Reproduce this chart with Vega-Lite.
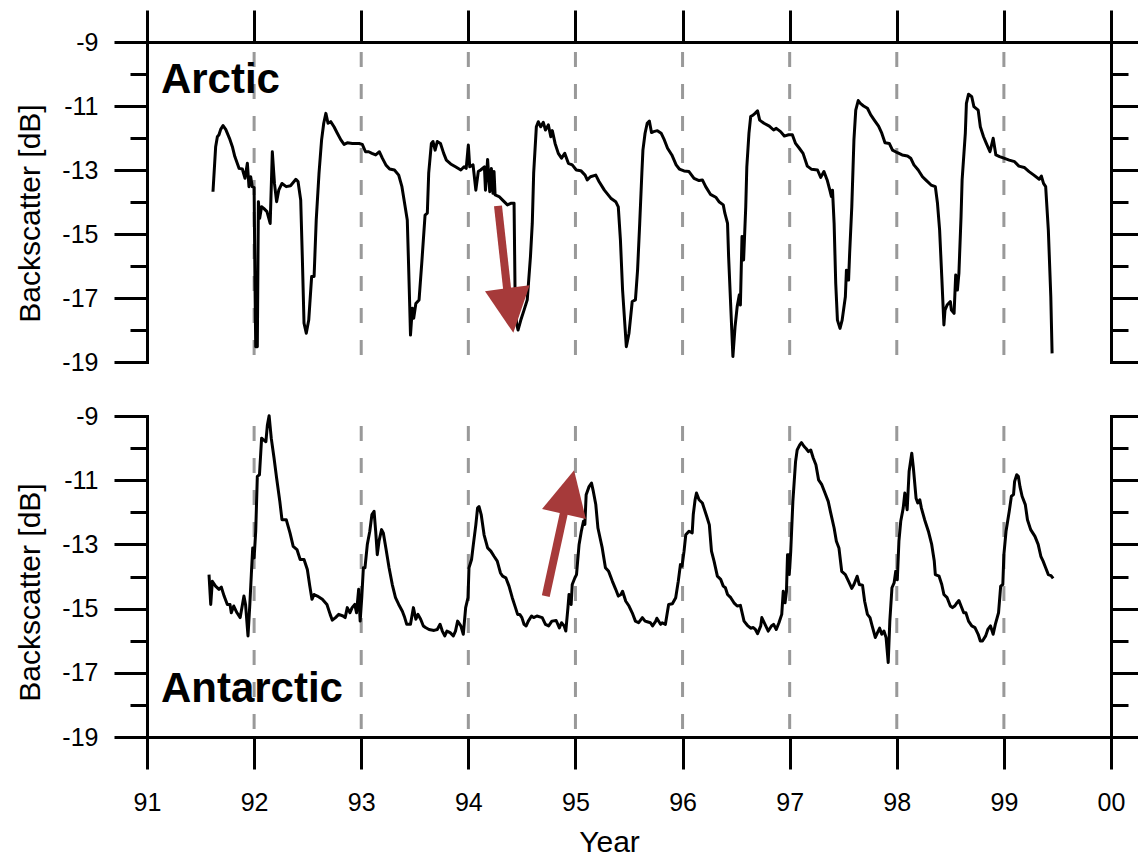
{
  "$schema": "https://vega.github.io/schema/vega-lite/v6.json",
  "background": "white",
  "padding": {"left": 15, "top": 8, "right": 0, "bottom": 0},
  "spacing": 54,
  "bounds": "flush",
  "config": {
    "font": "Liberation Sans",
    "view": {"stroke": null},
    "axis": {
      "domainColor": "black", "tickColor": "black", "domainWidth": 3, "tickWidth": 3,
      "labelFont": "Liberation Sans", "labelFontSize": 25, "labelColor": "black",
      "titleFont": "Liberation Sans", "titleFontSize": 30, "titleFontWeight": "normal", "titleColor": "black",
      "grid": false, "domainCap": "square", "labelFlush": false, "labelOverlap": false
    }
  },
  "datasets": {
    "years": [{"year": 92}, {"year": 93}, {"year": 94}, {"year": 95}, {"year": 96}, {"year": 97}, {"year": 98}, {"year": 99}],
    "downShaft": [{"year": 94.277, "dB": -14.12}, {"year": 94.368, "dB": -16.9}],
    "downHead": [{"year": 94.392, "dB": -17.39}],
    "upShaft": [{"year": 94.723, "dB": -14.61}, {"year": 94.9, "dB": -11.9}],
    "upHead": [{"year": 94.94, "dB": -11.37}],
    "arctic": [
{"year":91.616,"dB":-13.68},{"year":91.641,"dB":-12.27},{"year":91.657,"dB":-11.96},{"year":91.672,"dB":-11.9},{"year":91.688,"dB":-11.73},{"year":91.71,"dB":-11.61},{"year":91.735,"dB":-11.73},{"year":91.77,"dB":-12.01},{"year":91.797,"dB":-12.27},{"year":91.82,"dB":-12.58},{"year":91.86,"dB":-12.95},{"year":91.89,"dB":-12.97},{"year":91.915,"dB":-13.26},{"year":91.937,"dB":-12.79},{"year":91.952,"dB":-13.52},{"year":91.968,"dB":-13.21},{"year":91.983,"dB":-13.52},{"year":92.0,"dB":-13.55},{"year":92.008,"dB":-16.5},{"year":92.015,"dB":-18.52},{"year":92.03,"dB":-18.52},{"year":92.04,"dB":-13.99},{"year":92.052,"dB":-14.51},{"year":92.07,"dB":-14.15},{"year":92.09,"dB":-14.2},{"year":92.12,"dB":-14.3},{"year":92.15,"dB":-14.67},{"year":92.17,"dB":-12.43},{"year":92.19,"dB":-13.42},{"year":92.21,"dB":-13.99},{"year":92.23,"dB":-13.63},{"year":92.26,"dB":-13.42},{"year":92.3,"dB":-13.52},{"year":92.34,"dB":-13.49},{"year":92.39,"dB":-13.29},{"year":92.41,"dB":-13.36},{"year":92.435,"dB":-13.94},{"year":92.45,"dB":-15.71},{"year":92.466,"dB":-17.79},{"year":92.487,"dB":-18.1},{"year":92.51,"dB":-17.69},{"year":92.537,"dB":-16.33},{"year":92.56,"dB":-16.33},{"year":92.58,"dB":-14.56},{"year":92.606,"dB":-13.1},{"year":92.63,"dB":-12.06},{"year":92.65,"dB":-11.54},{"year":92.67,"dB":-11.23},{"year":92.69,"dB":-11.54},{"year":92.715,"dB":-11.49},{"year":92.746,"dB":-11.65},{"year":92.777,"dB":-11.85},{"year":92.81,"dB":-12.06},{"year":92.84,"dB":-12.2},{"year":92.87,"dB":-12.15},{"year":92.917,"dB":-12.17},{"year":92.98,"dB":-12.17},{"year":93.01,"dB":-12.2},{"year":93.04,"dB":-12.43},{"year":93.07,"dB":-12.43},{"year":93.1,"dB":-12.48},{"year":93.135,"dB":-12.53},{"year":93.17,"dB":-12.43},{"year":93.197,"dB":-12.63},{"year":93.23,"dB":-12.84},{"year":93.265,"dB":-12.97},{"year":93.31,"dB":-13.0},{"year":93.35,"dB":-13.16},{"year":93.38,"dB":-13.52},{"year":93.4,"dB":-13.94},{"year":93.43,"dB":-14.56},{"year":93.44,"dB":-15.71},{"year":93.453,"dB":-17.27},{"year":93.46,"dB":-18.16},{"year":93.477,"dB":-17.32},{"year":93.49,"dB":-17.63},{"year":93.51,"dB":-17.17},{"year":93.54,"dB":-17.06},{"year":93.565,"dB":-15.92},{"year":93.596,"dB":-14.41},{"year":93.617,"dB":-14.35},{"year":93.63,"dB":-13.1},{"year":93.655,"dB":-12.17},{"year":93.67,"dB":-12.11},{"year":93.69,"dB":-12.38},{"year":93.71,"dB":-12.11},{"year":93.74,"dB":-12.17},{"year":93.77,"dB":-12.48},{"year":93.795,"dB":-12.69},{"year":93.835,"dB":-12.81},{"year":93.88,"dB":-12.9},{"year":93.93,"dB":-13.0},{"year":93.96,"dB":-12.9},{"year":93.98,"dB":-12.95},{"year":94.0,"dB":-12.22},{"year":94.013,"dB":-12.9},{"year":94.044,"dB":-12.84},{"year":94.07,"dB":-13.63},{"year":94.093,"dB":-13.05},{"year":94.115,"dB":-13.0},{"year":94.15,"dB":-12.9},{"year":94.16,"dB":-13.63},{"year":94.18,"dB":-12.67},{"year":94.2,"dB":-13.68},{"year":94.215,"dB":-12.95},{"year":94.23,"dB":-13.73},{"year":94.24,"dB":-13.05},{"year":94.25,"dB":-13.78},{"year":94.287,"dB":-13.83},{"year":94.32,"dB":-13.94},{"year":94.365,"dB":-14.09},{"year":94.396,"dB":-14.04},{"year":94.427,"dB":-14.04},{"year":94.436,"dB":-16.75},{"year":94.45,"dB":-17.79},{"year":94.464,"dB":-18.0},{"year":94.49,"dB":-17.69},{"year":94.52,"dB":-17.38},{"year":94.55,"dB":-17.06},{"year":94.58,"dB":-15.71},{"year":94.597,"dB":-14.67},{"year":94.61,"dB":-13.1},{"year":94.635,"dB":-11.65},{"year":94.653,"dB":-11.49},{"year":94.676,"dB":-11.65},{"year":94.7,"dB":-11.51},{"year":94.72,"dB":-11.75},{"year":94.747,"dB":-11.59},{"year":94.77,"dB":-11.96},{"year":94.784,"dB":-11.77},{"year":94.81,"dB":-12.17},{"year":94.84,"dB":-12.48},{"year":94.87,"dB":-12.63},{"year":94.9,"dB":-12.48},{"year":94.934,"dB":-12.79},{"year":94.97,"dB":-12.84},{"year":95.008,"dB":-13.0},{"year":95.05,"dB":-13.02},{"year":95.09,"dB":-13.16},{"year":95.11,"dB":-13.31},{"year":95.14,"dB":-13.21},{"year":95.19,"dB":-13.16},{"year":95.22,"dB":-13.36},{"year":95.27,"dB":-13.63},{"year":95.33,"dB":-13.88},{"year":95.376,"dB":-13.99},{"year":95.4,"dB":-14.15},{"year":95.42,"dB":-15.19},{"year":95.44,"dB":-16.75},{"year":95.475,"dB":-18.52},{"year":95.5,"dB":-18.1},{"year":95.53,"dB":-17.11},{"year":95.56,"dB":-17.06},{"year":95.58,"dB":-16.13},{"year":95.6,"dB":-14.67},{"year":95.62,"dB":-13.1},{"year":95.63,"dB":-12.38},{"year":95.65,"dB":-11.85},{"year":95.67,"dB":-11.54},{"year":95.69,"dB":-11.47},{"year":95.71,"dB":-11.83},{"year":95.73,"dB":-11.8},{"year":95.765,"dB":-11.77},{"year":95.8,"dB":-11.85},{"year":95.83,"dB":-12.06},{"year":95.86,"dB":-12.32},{"year":95.9,"dB":-12.53},{"year":95.94,"dB":-12.84},{"year":95.97,"dB":-12.97},{"year":96.014,"dB":-13.03},{"year":96.06,"dB":-13.05},{"year":96.107,"dB":-13.26},{"year":96.154,"dB":-13.33},{"year":96.185,"dB":-13.31},{"year":96.216,"dB":-13.52},{"year":96.26,"dB":-13.76},{"year":96.31,"dB":-13.85},{"year":96.34,"dB":-13.99},{"year":96.38,"dB":-14.09},{"year":96.395,"dB":-14.35},{"year":96.42,"dB":-14.67},{"year":96.43,"dB":-15.71},{"year":96.45,"dB":-17.27},{"year":96.47,"dB":-18.83},{"year":96.49,"dB":-17.9},{"year":96.51,"dB":-17.27},{"year":96.53,"dB":-16.9},{"year":96.54,"dB":-17.22},{"year":96.555,"dB":-15.08},{"year":96.57,"dB":-15.81},{"year":96.59,"dB":-14.15},{"year":96.6,"dB":-12.9},{"year":96.62,"dB":-11.85},{"year":96.636,"dB":-11.33},{"year":96.66,"dB":-11.28},{"year":96.677,"dB":-11.23},{"year":96.7,"dB":-11.15},{"year":96.72,"dB":-11.44},{"year":96.76,"dB":-11.54},{"year":96.81,"dB":-11.63},{"year":96.85,"dB":-11.75},{"year":96.875,"dB":-11.7},{"year":96.915,"dB":-11.8},{"year":96.95,"dB":-11.94},{"year":96.99,"dB":-11.9},{"year":97.025,"dB":-11.9},{"year":97.055,"dB":-12.17},{"year":97.09,"dB":-12.32},{"year":97.125,"dB":-12.48},{"year":97.165,"dB":-12.88},{"year":97.205,"dB":-12.98},{"year":97.26,"dB":-13.0},{"year":97.29,"dB":-13.23},{"year":97.32,"dB":-13.05},{"year":97.35,"dB":-13.31},{"year":97.375,"dB":-13.63},{"year":97.39,"dB":-13.83},{"year":97.4,"dB":-13.63},{"year":97.415,"dB":-14.67},{"year":97.43,"dB":-16.54},{"year":97.446,"dB":-17.69},{"year":97.47,"dB":-17.95},{"year":97.49,"dB":-17.69},{"year":97.52,"dB":-16.96},{"year":97.53,"dB":-16.13},{"year":97.55,"dB":-16.44},{"year":97.56,"dB":-15.6},{"year":97.58,"dB":-14.15},{"year":97.6,"dB":-12.06},{"year":97.617,"dB":-11.13},{"year":97.64,"dB":-10.83},{"year":97.66,"dB":-10.92},{"year":97.69,"dB":-11.0},{"year":97.726,"dB":-11.07},{"year":97.757,"dB":-11.28},{"year":97.79,"dB":-11.44},{"year":97.83,"dB":-11.63},{"year":97.86,"dB":-11.85},{"year":97.89,"dB":-12.15},{"year":97.93,"dB":-12.17},{"year":97.96,"dB":-12.38},{"year":98.006,"dB":-12.46},{"year":98.05,"dB":-12.53},{"year":98.1,"dB":-12.56},{"year":98.13,"dB":-12.63},{"year":98.16,"dB":-12.84},{"year":98.2,"dB":-13.0},{"year":98.24,"dB":-13.21},{"year":98.27,"dB":-13.31},{"year":98.32,"dB":-13.47},{"year":98.36,"dB":-13.52},{"year":98.38,"dB":-14.04},{"year":98.4,"dB":-14.88},{"year":98.42,"dB":-16.33},{"year":98.44,"dB":-17.84},{"year":98.45,"dB":-17.38},{"year":98.47,"dB":-17.22},{"year":98.5,"dB":-17.11},{"year":98.51,"dB":-17.38},{"year":98.535,"dB":-17.48},{"year":98.55,"dB":-16.28},{"year":98.566,"dB":-16.75},{"year":98.58,"dB":-16.23},{"year":98.6,"dB":-14.46},{"year":98.61,"dB":-13.31},{"year":98.64,"dB":-11.85},{"year":98.65,"dB":-10.92},{"year":98.67,"dB":-10.63},{"year":98.7,"dB":-10.71},{"year":98.72,"dB":-11.02},{"year":98.76,"dB":-11.13},{"year":98.78,"dB":-11.65},{"year":98.81,"dB":-11.96},{"year":98.836,"dB":-12.17},{"year":98.87,"dB":-12.43},{"year":98.9,"dB":-12.01},{"year":98.925,"dB":-12.53},{"year":98.96,"dB":-12.58},{"year":99.0,"dB":-12.63},{"year":99.05,"dB":-12.69},{"year":99.1,"dB":-12.74},{"year":99.14,"dB":-12.88},{"year":99.19,"dB":-12.92},{"year":99.235,"dB":-13.05},{"year":99.28,"dB":-13.16},{"year":99.33,"dB":-13.29},{"year":99.35,"dB":-13.19},{"year":99.37,"dB":-13.42},{"year":99.39,"dB":-13.52},{"year":99.415,"dB":-14.88},{"year":99.438,"dB":-16.96},{"year":99.45,"dB":-18.73}
    ],
    "antarctic": [
{"year":91.579,"dB":-13.94},{"year":91.595,"dB":-14.87},{"year":91.61,"dB":-14.15},{"year":91.64,"dB":-14.3},{"year":91.672,"dB":-14.4},{"year":91.694,"dB":-14.33},{"year":91.72,"dB":-14.61},{"year":91.75,"dB":-14.87},{"year":91.775,"dB":-14.87},{"year":91.787,"dB":-15.13},{"year":91.81,"dB":-14.92},{"year":91.84,"dB":-15.13},{"year":91.87,"dB":-15.28},{"year":91.905,"dB":-14.61},{"year":91.92,"dB":-14.87},{"year":91.943,"dB":-15.85},{"year":91.96,"dB":-14.87},{"year":91.974,"dB":-13.94},{"year":91.987,"dB":-13.11},{"year":92.0,"dB":-13.42},{"year":92.015,"dB":-12.59},{"year":92.03,"dB":-10.88},{"year":92.05,"dB":-10.83},{"year":92.07,"dB":-9.69},{"year":92.09,"dB":-9.75},{"year":92.11,"dB":-9.8},{"year":92.124,"dB":-9.28},{"year":92.14,"dB":-8.99},{"year":92.16,"dB":-9.69},{"year":92.186,"dB":-10.31},{"year":92.21,"dB":-10.93},{"year":92.24,"dB":-11.66},{"year":92.26,"dB":-12.23},{"year":92.3,"dB":-12.23},{"year":92.335,"dB":-12.64},{"year":92.365,"dB":-13.06},{"year":92.4,"dB":-13.16},{"year":92.43,"dB":-13.47},{"year":92.466,"dB":-13.47},{"year":92.497,"dB":-13.78},{"year":92.52,"dB":-14.3},{"year":92.54,"dB":-14.71},{"year":92.56,"dB":-14.56},{"year":92.59,"dB":-14.61},{"year":92.637,"dB":-14.71},{"year":92.68,"dB":-14.87},{"year":92.71,"dB":-15.18},{"year":92.73,"dB":-15.36},{"year":92.76,"dB":-15.28},{"year":92.79,"dB":-15.18},{"year":92.83,"dB":-15.23},{"year":92.85,"dB":-15.28},{"year":92.87,"dB":-14.97},{"year":92.895,"dB":-15.13},{"year":92.915,"dB":-14.97},{"year":92.94,"dB":-14.87},{"year":92.956,"dB":-15.13},{"year":92.976,"dB":-14.4},{"year":92.99,"dB":-15.39},{"year":93.005,"dB":-14.66},{"year":93.02,"dB":-13.73},{"year":93.035,"dB":-13.73},{"year":93.057,"dB":-13.0},{"year":93.08,"dB":-12.59},{"year":93.1,"dB":-12.07},{"year":93.12,"dB":-11.97},{"year":93.135,"dB":-12.59},{"year":93.15,"dB":-13.32},{"year":93.166,"dB":-12.9},{"year":93.19,"dB":-12.54},{"year":93.206,"dB":-12.64},{"year":93.23,"dB":-13.11},{"year":93.26,"dB":-13.73},{"year":93.29,"dB":-14.25},{"year":93.32,"dB":-14.66},{"year":93.35,"dB":-14.87},{"year":93.384,"dB":-15.08},{"year":93.406,"dB":-15.28},{"year":93.425,"dB":-15.49},{"year":93.46,"dB":-15.49},{"year":93.487,"dB":-14.97},{"year":93.51,"dB":-15.33},{"year":93.53,"dB":-15.18},{"year":93.555,"dB":-15.33},{"year":93.58,"dB":-15.54},{"year":93.6,"dB":-15.59},{"year":93.633,"dB":-15.65},{"year":93.68,"dB":-15.68},{"year":93.71,"dB":-15.65},{"year":93.736,"dB":-15.49},{"year":93.757,"dB":-15.7},{"year":93.78,"dB":-15.85},{"year":93.8,"dB":-15.7},{"year":93.83,"dB":-15.75},{"year":93.86,"dB":-15.85},{"year":93.88,"dB":-15.7},{"year":93.9,"dB":-15.39},{"year":93.93,"dB":-15.54},{"year":93.953,"dB":-15.8},{"year":93.975,"dB":-14.97},{"year":93.997,"dB":-14.66},{"year":94.006,"dB":-13.73},{"year":94.03,"dB":-13.47},{"year":94.047,"dB":-13.0},{"year":94.07,"dB":-12.39},{"year":94.086,"dB":-11.87},{"year":94.1,"dB":-11.82},{"year":94.12,"dB":-12.07},{"year":94.147,"dB":-12.7},{"year":94.18,"dB":-13.11},{"year":94.21,"dB":-13.21},{"year":94.24,"dB":-13.37},{"year":94.27,"dB":-13.52},{"year":94.3,"dB":-13.89},{"year":94.32,"dB":-13.99},{"year":94.35,"dB":-14.04},{"year":94.38,"dB":-14.3},{"year":94.41,"dB":-14.66},{"year":94.44,"dB":-14.97},{"year":94.46,"dB":-15.18},{"year":94.48,"dB":-15.18},{"year":94.5,"dB":-15.28},{"year":94.52,"dB":-15.49},{"year":94.54,"dB":-15.54},{"year":94.56,"dB":-15.39},{"year":94.59,"dB":-15.23},{"year":94.61,"dB":-15.28},{"year":94.64,"dB":-15.23},{"year":94.69,"dB":-15.28},{"year":94.72,"dB":-15.49},{"year":94.75,"dB":-15.54},{"year":94.78,"dB":-15.39},{"year":94.82,"dB":-15.37},{"year":94.85,"dB":-15.6},{"year":94.87,"dB":-15.44},{"year":94.895,"dB":-15.54},{"year":94.91,"dB":-15.7},{"year":94.93,"dB":-14.97},{"year":94.94,"dB":-14.56},{"year":94.96,"dB":-14.87},{"year":94.97,"dB":-14.25},{"year":94.995,"dB":-14.04},{"year":95.01,"dB":-13.94},{"year":95.034,"dB":-13.0},{"year":95.055,"dB":-12.59},{"year":95.075,"dB":-12.28},{"year":95.088,"dB":-12.38},{"year":95.1,"dB":-11.45},{"year":95.127,"dB":-11.2},{"year":95.15,"dB":-11.09},{"year":95.167,"dB":-11.35},{"year":95.19,"dB":-11.76},{"year":95.21,"dB":-12.49},{"year":95.23,"dB":-12.8},{"year":95.25,"dB":-13.11},{"year":95.28,"dB":-13.73},{"year":95.31,"dB":-13.84},{"year":95.345,"dB":-14.15},{"year":95.376,"dB":-14.4},{"year":95.4,"dB":-14.61},{"year":95.425,"dB":-14.56},{"year":95.44,"dB":-14.46},{"year":95.47,"dB":-14.77},{"year":95.5,"dB":-14.92},{"year":95.53,"dB":-15.13},{"year":95.56,"dB":-15.39},{"year":95.59,"dB":-15.44},{"year":95.625,"dB":-15.28},{"year":95.65,"dB":-15.39},{"year":95.67,"dB":-15.41},{"year":95.7,"dB":-15.44},{"year":95.72,"dB":-15.54},{"year":95.75,"dB":-15.39},{"year":95.76,"dB":-15.3},{"year":95.795,"dB":-15.49},{"year":95.81,"dB":-15.44},{"year":95.84,"dB":-15.49},{"year":95.87,"dB":-14.87},{"year":95.905,"dB":-14.85},{"year":95.936,"dB":-14.66},{"year":95.96,"dB":-14.15},{"year":95.98,"dB":-13.63},{"year":95.995,"dB":-13.68},{"year":96.014,"dB":-13.21},{"year":96.03,"dB":-12.7},{"year":96.06,"dB":-12.59},{"year":96.09,"dB":-12.64},{"year":96.1,"dB":-12.07},{"year":96.117,"dB":-11.61},{"year":96.13,"dB":-11.4},{"year":96.154,"dB":-11.61},{"year":96.185,"dB":-11.71},{"year":96.226,"dB":-12.13},{"year":96.25,"dB":-12.39},{"year":96.27,"dB":-13.21},{"year":96.294,"dB":-13.52},{"year":96.325,"dB":-13.99},{"year":96.356,"dB":-14.09},{"year":96.38,"dB":-14.3},{"year":96.4,"dB":-14.35},{"year":96.42,"dB":-14.56},{"year":96.45,"dB":-14.66},{"year":96.48,"dB":-14.82},{"year":96.51,"dB":-14.92},{"year":96.54,"dB":-14.9},{"year":96.574,"dB":-15.39},{"year":96.605,"dB":-15.52},{"year":96.636,"dB":-15.61},{"year":96.66,"dB":-15.59},{"year":96.68,"dB":-15.65},{"year":96.7,"dB":-15.78},{"year":96.73,"dB":-15.54},{"year":96.74,"dB":-15.28},{"year":96.77,"dB":-15.49},{"year":96.8,"dB":-15.7},{"year":96.83,"dB":-15.54},{"year":96.85,"dB":-15.49},{"year":96.875,"dB":-15.65},{"year":96.9,"dB":-15.44},{"year":96.926,"dB":-15.18},{"year":96.94,"dB":-14.46},{"year":96.957,"dB":-14.82},{"year":96.97,"dB":-14.46},{"year":96.98,"dB":-13.32},{"year":96.99,"dB":-13.32},{"year":96.996,"dB":-13.94},{"year":97.01,"dB":-13.22},{"year":97.03,"dB":-11.66},{"year":97.055,"dB":-10.42},{"year":97.07,"dB":-10.06},{"year":97.094,"dB":-9.9},{"year":97.11,"dB":-9.83},{"year":97.135,"dB":-9.95},{"year":97.155,"dB":-10.02},{"year":97.175,"dB":-10.11},{"year":97.197,"dB":-10.06},{"year":97.22,"dB":-10.31},{"year":97.245,"dB":-10.52},{"year":97.27,"dB":-10.99},{"year":97.3,"dB":-11.14},{"year":97.33,"dB":-11.4},{"year":97.36,"dB":-11.66},{"year":97.38,"dB":-11.97},{"year":97.415,"dB":-12.49},{"year":97.436,"dB":-12.9},{"year":97.46,"dB":-13.11},{"year":97.486,"dB":-13.84},{"year":97.52,"dB":-13.94},{"year":97.55,"dB":-14.15},{"year":97.58,"dB":-14.37},{"year":97.6,"dB":-14.25},{"year":97.63,"dB":-13.99},{"year":97.65,"dB":-14.25},{"year":97.68,"dB":-14.27},{"year":97.7,"dB":-14.77},{"year":97.726,"dB":-15.18},{"year":97.75,"dB":-15.28},{"year":97.77,"dB":-15.54},{"year":97.8,"dB":-15.9},{"year":97.82,"dB":-15.75},{"year":97.84,"dB":-15.61},{"year":97.86,"dB":-15.8},{"year":97.88,"dB":-15.7},{"year":97.9,"dB":-15.9},{"year":97.92,"dB":-16.68},{"year":97.935,"dB":-15.39},{"year":97.955,"dB":-14.35},{"year":97.975,"dB":-14.2},{"year":97.99,"dB":-13.84},{"year":98.005,"dB":-14.1},{"year":98.02,"dB":-12.9},{"year":98.037,"dB":-12.28},{"year":98.06,"dB":-11.87},{"year":98.075,"dB":-11.4},{"year":98.097,"dB":-11.92},{"year":98.115,"dB":-10.73},{"year":98.14,"dB":-10.16},{"year":98.155,"dB":-10.62},{"year":98.18,"dB":-11.56},{"year":98.196,"dB":-11.71},{"year":98.215,"dB":-11.61},{"year":98.23,"dB":-11.87},{"year":98.26,"dB":-12.23},{"year":98.295,"dB":-12.59},{"year":98.326,"dB":-13.0},{"year":98.35,"dB":-13.52},{"year":98.36,"dB":-13.94},{"year":98.395,"dB":-13.99},{"year":98.42,"dB":-14.25},{"year":98.44,"dB":-14.56},{"year":98.47,"dB":-14.66},{"year":98.5,"dB":-14.92},{"year":98.52,"dB":-14.97},{"year":98.54,"dB":-14.92},{"year":98.555,"dB":-14.85},{"year":98.58,"dB":-14.75},{"year":98.6,"dB":-14.92},{"year":98.625,"dB":-15.13},{"year":98.645,"dB":-15.13},{"year":98.67,"dB":-15.39},{"year":98.7,"dB":-15.54},{"year":98.73,"dB":-15.59},{"year":98.76,"dB":-15.8},{"year":98.78,"dB":-16.01},{"year":98.8,"dB":-16.01},{"year":98.83,"dB":-15.85},{"year":98.85,"dB":-15.65},{"year":98.875,"dB":-15.54},{"year":98.9,"dB":-15.8},{"year":98.92,"dB":-15.49},{"year":98.95,"dB":-15.13},{"year":98.97,"dB":-14.3},{"year":98.99,"dB":-14.25},{"year":99.0,"dB":-13.32},{"year":99.02,"dB":-12.59},{"year":99.05,"dB":-11.97},{"year":99.07,"dB":-11.5},{"year":99.09,"dB":-11.45},{"year":99.1,"dB":-11.04},{"year":99.12,"dB":-10.83},{"year":99.135,"dB":-10.88},{"year":99.15,"dB":-11.2},{"year":99.17,"dB":-11.5},{"year":99.2,"dB":-11.76},{"year":99.22,"dB":-12.23},{"year":99.25,"dB":-12.54},{"year":99.29,"dB":-12.75},{"year":99.32,"dB":-13.0},{"year":99.345,"dB":-13.37},{"year":99.366,"dB":-13.52},{"year":99.39,"dB":-13.73},{"year":99.415,"dB":-13.94},{"year":99.44,"dB":-13.97},{"year":99.46,"dB":-14.06}
    ]
  },
  "vconcat": [
    {
      "width": 964,
      "height": 320,
      "layer": [
        {
          "data": {"name": "years"},
          "mark": {"type": "rule", "color": "#999999", "strokeWidth": 3, "strokeDash": [15, 17], "strokeDashOffset": 22},
          "encoding": {
            "x": {"field": "year", "type": "quantitative", "scale": {"domain": [91, 100], "nice": false, "zero": false},
                  "axis": {"orient": "top", "values": [91, 92, 93, 94, 95, 96, 97, 98, 99, 100], "tickSize": 32, "labels": false, "title": null, "domain": true}},
            "y": {"datum": -9, "type": "quantitative", "scale": {"domain": [-19, -9], "nice": false, "zero": false},
                  "axis": {"orient": "left", "values": [-19, -18, -17, -16, -15, -14, -13, -12, -11, -10, -9],
                           "tickSize": {"condition": {"test": "datum.value % 2 === 0", "value": 17}, "value": 33},
                           "labelExpr": "datum.value % 2 === 0 ? '' : '' + datum.value",
                           "labelPadding": 16, "title": "Backscatter [dB]", "titlePadding": 16, "titleY": 171}},
            "y2": {"datum": -19}
          }
        },
        {
          "data": {"name": "arctic"},
          "mark": {"type": "line", "color": "black", "strokeWidth": 3, "strokeJoin": "round"},
          "encoding": {
            "x": {"field": "year", "type": "quantitative"},
            "y": {"field": "dB", "type": "quantitative",
                  "axis": {"orient": "right", "values": [-19, -18, -17, -16, -15, -14, -13, -12, -11, -10, -9],
                           "tickSize": {"condition": {"test": "datum.value % 2 === 0", "value": 17}, "value": 27},
                           "labels": false, "title": null}}
          }
        },
        {
          "data": {"name": "downShaft"},
          "mark": {"type": "line", "color": "#a63a3a", "strokeWidth": 8, "strokeCap": "butt"},
          "encoding": {
            "x": {"field": "year", "type": "quantitative"},
            "y": {"field": "dB", "type": "quantitative", "axis": null}
          }
        },
        {
          "data": {"name": "downHead"},
          "mark": {"type": "point", "shape": "M0,-1L1,1L-1,1Z", "size": 2025, "angle": 172.3, "filled": true, "color": "#a63a3a", "opacity": 1, "strokeWidth": 0},
          "encoding": {
            "x": {"field": "year", "type": "quantitative"},
            "y": {"field": "dB", "type": "quantitative", "axis": null}
          }
        },
        {
          "data": {"values": [{}]},
          "mark": {"type": "text", "text": "Arctic", "align": "left", "baseline": "alphabetic", "font": "Liberation Sans", "fontSize": 42, "fontWeight": "bold", "color": "black"},
          "encoding": {
            "x": {"datum": 91.13, "type": "quantitative"},
            "y": {"datum": -10.59, "type": "quantitative", "axis": null}
          }
        }
      ],
      "resolve": {"axis": {"y": "independent"}}
    },
    {
      "width": 964,
      "height": 321,
      "layer": [
        {
          "data": {"name": "years"},
          "mark": {"type": "rule", "color": "#999999", "strokeWidth": 3, "strokeDash": [15, 17], "strokeDashOffset": 22},
          "encoding": {
            "x": {"field": "year", "type": "quantitative", "scale": {"domain": [91, 100], "nice": false, "zero": false},
                  "axis": {"orient": "bottom", "values": [91, 92, 93, 94, 95, 96, 97, 98, 99, 100], "tickSize": 32,
                           "labelExpr": "datum.value === 100 ? '00' : '' + datum.value", "labelPadding": 21,
                           "title": "Year", "titlePadding": 12, "titleX": 462}},
            "y": {"datum": -9, "type": "quantitative", "scale": {"domain": [-19, -9], "nice": false, "zero": false},
                  "axis": {"orient": "left", "values": [-19, -18, -17, -16, -15, -14, -13, -12, -11, -10, -9],
                           "tickSize": {"condition": {"test": "datum.value % 2 === 0", "value": 17}, "value": 33},
                           "labelExpr": "datum.value % 2 === 0 ? '' : '' + datum.value",
                           "labelPadding": 16, "title": "Backscatter [dB]", "titlePadding": 16, "titleY": 176}},
            "y2": {"datum": -19}
          }
        },
        {
          "data": {"name": "antarctic"},
          "mark": {"type": "line", "color": "black", "strokeWidth": 3, "strokeJoin": "round"},
          "encoding": {
            "x": {"field": "year", "type": "quantitative"},
            "y": {"field": "dB", "type": "quantitative",
                  "axis": {"orient": "right", "values": [-19, -18, -17, -16, -15, -14, -13, -12, -11, -10, -9],
                           "tickSize": {"condition": {"test": "datum.value % 2 === 0", "value": 17}, "value": 27},
                           "labels": false, "title": null}}
          }
        },
        {
          "data": {"name": "upShaft"},
          "mark": {"type": "line", "color": "#a63a3a", "strokeWidth": 8, "strokeCap": "butt"},
          "encoding": {
            "x": {"field": "year", "type": "quantitative"},
            "y": {"field": "dB", "type": "quantitative", "axis": null}
          }
        },
        {
          "data": {"name": "upHead"},
          "mark": {"type": "point", "shape": "M0,-1L1,1L-1,1Z", "size": 2025, "angle": 13, "filled": true, "color": "#a63a3a", "opacity": 1, "strokeWidth": 0},
          "encoding": {
            "x": {"field": "year", "type": "quantitative"},
            "y": {"field": "dB", "type": "quantitative", "axis": null}
          }
        },
        {
          "data": {"values": [{}]},
          "mark": {"type": "text", "text": "Antarctic", "align": "left", "baseline": "alphabetic", "font": "Liberation Sans", "fontSize": 42, "fontWeight": "bold", "color": "black"},
          "encoding": {
            "x": {"datum": 91.13, "type": "quantitative"},
            "y": {"datum": -17.91, "type": "quantitative", "axis": null}
          }
        }
      ],
      "resolve": {"axis": {"y": "independent"}}
    }
  ]
}
